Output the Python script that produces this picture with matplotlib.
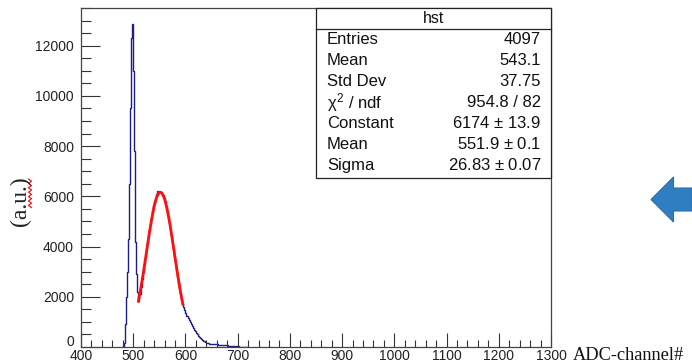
import numpy as np
import matplotlib
matplotlib.use("Agg")
import matplotlib.pyplot as plt
from matplotlib.patches import Rectangle, Polygon
from matplotlib.lines import Line2D
from matplotlib.transforms import ScaledTranslation

# histogram contents, 2-channel bins starting at channel 478
counts = [0, 30, 150, 900, 2000, 3000, 4300, 6500, 9500, 12300,
          12850, 11000, 7800, 4200, 2900, 2200, 1850, 2100, 2400, 2700,
          3000, 3300, 3600, 3900, 4150, 4400, 4650, 4900, 5150, 5400,
          5600, 5800, 5950, 6100, 6200, 6180, 6200, 6170, 6120, 6050,
          5950, 5800, 5620, 5420, 5200, 4950, 4700, 4450, 4150, 3900,
          3600, 3330, 3060, 2800, 2560, 2330, 2120, 1920, 1750, 1600,
          1470, 1350, 1250, 1150, 1060, 980, 900, 820, 750, 680,
          620, 560, 500, 450, 400, 355, 315, 280, 250, 220,
          195, 175, 160, 148, 138, 130, 123, 117, 112, 107,
          103, 100, 96, 92, 88, 84, 80, 76, 72, 68,
          64, 60, 55, 50, 46, 42, 38, 34, 30, 27,
          24, 21, 18, 16, 14, 12, 10, 8, 6, 5, 3]
first_channel = 478
bin_width = 2

# gaussian fit curve as drawn
fit_x = [510, 515, 520, 525, 530, 535, 540, 545, 550, 555,
         560, 565, 570, 575, 580, 585, 590, 595]
fit_y = [1820, 2400, 3040, 3730, 4430, 5060, 5600, 5970, 6160, 6135,
         5900, 5480, 4920, 4260, 3570, 2890, 2250, 1700]

stat_names = ["Entries", "Mean", "Std Dev", r"$\chi^{2}$ / ndf",
              "Constant", "Mean", "Sigma"]
stat_values = ["4097", "543.1", "37.75", "954.8 / 82",
               "6174 $\\pm$ 13.9", "551.9 $\\pm$ 0.1", "26.83 $\\pm$ 0.07"]

W, H = 692, 362
fig = plt.figure(figsize=(W / 100, H / 100), dpi=100)
plt.rcParams['font.family'] = ['Liberation Sans', 'DejaVu Sans']
plt.rcParams['mathtext.fontset'] = 'custom'
plt.rcParams['mathtext.rm'] = 'Liberation Sans'
plt.rcParams['mathtext.it'] = 'Liberation Sans'


def fx(px):
    return px / W


def fy(py):
    return 1 - py / H


ax = fig.add_axes([fx(81), fy(347), fx(551) - fx(81), fy(8) - fy(347)])

edges = first_channel + bin_width * np.arange(len(counts) + 1)
ax.stairs(counts, edges, color='#1c1c8a', linewidth=1.0, baseline=None)
ax.plot(fit_x, fit_y, color='#ff1010', linewidth=2.0)

ax.set_xlim(400, 1300)
ax.set_ylim(0, 13500)
ax.set_xticks(np.arange(400, 1301, 100))
ax.set_xticks(np.arange(400, 1301, 20), minor=True)
ax.set_yticks(np.arange(0, 12001, 2000))
ax.set_yticks(np.arange(0, 13501, 500), minor=True)
ax.tick_params(axis='y', which='major', direction='in', length=14, width=0.8,
               labelsize=10, pad=5, colors='#333333', labelcolor='#222222')
ax.tick_params(axis='y', which='minor', direction='in', length=7, width=0.8,
               colors='#333333')
ax.tick_params(axis='x', which='major', direction='in', length=10, width=0.8,
               labelsize=10, pad=1.5, colors='#333333', labelcolor='#222222')
ax.tick_params(axis='x', which='minor', direction='in', length=5, width=0.8,
               colors='#333333')
for s in ax.spines.values():
    s.set_color('#444444')
    s.set_linewidth(0.9)

# ROOT lifts the "0" label above the x labels
fig.canvas.draw()
zero_lab = ax.get_yticklabels()[0]
zero_lab.set_transform(zero_lab.get_transform() +
                       ScaledTranslation(0, 6 / 100, fig.dpi_scale_trans))

# stats box
bx0, bx1, by0, by1 = 316, 551, 8, 178
fig.add_artist(Rectangle((fx(bx0), fy(by1)), fx(bx1) - fx(bx0), fy(by0) - fy(by1),
                         transform=fig.transFigure, facecolor='white',
                         edgecolor='#222222', linewidth=0.9, zorder=5))
fig.add_artist(Line2D([fx(bx0), fx(bx1)], [fy(29), fy(29)],
                      transform=fig.transFigure, color='#222222',
                      linewidth=0.9, zorder=6))
fig.text(fx((bx0 + bx1) / 2), fy(18.5), "hst", ha='center', va='center',
         fontsize=11.5, color='#111111', zorder=7)
for i, (nm, val) in enumerate(zip(stat_names, stat_values)):
    yy = 39.5 + i * 21
    fig.text(fx(327), fy(yy), nm, ha='left', va='center', fontsize=12,
             color='#111111', zorder=7)
    fig.text(fx(541), fy(yy), val, ha='right', va='center', fontsize=12,
             color='#111111', zorder=7)

# axis titles (added on slide, serif)
fig.text(fx(20), fy(201), "(a.u.)", rotation=90, ha='center', va='center',
         fontsize=17, family='Liberation Serif', color='#222222')
zy = np.arange(179, 208, 2.2)
zx = np.where(np.arange(len(zy)) % 2 == 0, 28.5, 31.5)
fig.add_artist(Line2D(fx(zx), fy(zy), transform=fig.transFigure,
                      color='#e02020', linewidth=0.9))
fig.text(fx(573), fy(355), "ADC-channel#", ha='left', va='center',
         fontsize=13.2, family='Liberation Serif', color='#111111')

# blue arrow on the right
arrow = [(651, 199.5), (673.5, 177), (673.5, 188), (692, 188),
         (692, 211), (673.5, 211), (673.5, 222)]
fig.add_artist(Polygon([(fx(a), fy(b)) for a, b in arrow], closed=True,
                       transform=fig.transFigure, facecolor='#2f7ec1',
                       edgecolor='#2a6fae', linewidth=0.8))

fig.savefig("out.png", dpi=100)
